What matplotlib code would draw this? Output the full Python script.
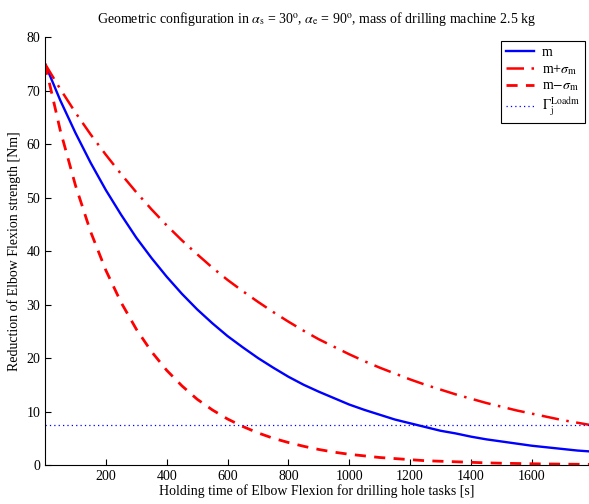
import numpy as np
import matplotlib
matplotlib.use('Agg')
import matplotlib.pyplot as plt

plt.rcParams['font.family'] = ['Liberation Serif', 'DejaVu Serif']
plt.rcParams['mathtext.fontset'] = 'stix'

# holding time [s]
t = np.arange(0, 1801, 50)

# mean strength reduction m [Nm]
m = [75.0, 68.2, 62.1, 56.5, 51.4, 46.8, 42.5, 38.7, 35.2, 32.0, 29.1, 26.5, 24.1,
     22.0, 20.0, 18.2, 16.5, 15.0, 13.7, 12.5, 11.3, 10.3, 9.4, 8.5, 7.8, 7.1,
     6.4, 5.9, 5.3, 4.8, 4.4, 4.0, 3.6, 3.3, 3.0, 2.7, 2.5]
# m + sigma
m_plus = [75.0, 70.3, 65.9, 61.8, 58.0, 54.4, 51.0, 47.8, 44.8, 42.0, 39.4, 36.9,
          34.6, 32.5, 30.5, 28.6, 26.8, 25.1, 23.5, 22.1, 20.7, 19.4, 18.2, 17.1,
          16.0, 15.0, 14.1, 13.2, 12.4, 11.6, 10.9, 10.2, 9.6, 9.0, 8.4, 7.9, 7.4]
# m - sigma
m_minus = [75.0, 62.6, 52.3, 43.6, 36.4, 30.4, 25.4, 21.2, 17.7, 14.8, 12.3, 10.3,
           8.6, 7.2, 6.0, 5.0, 4.2, 3.5, 2.9, 2.4, 2.0, 1.7, 1.4, 1.2, 1.0, 0.8,
           0.7, 0.6, 0.5, 0.4, 0.33, 0.28, 0.23, 0.19, 0.16, 0.13, 0.11]
# load torque
gamma_load = 7.4

fig = plt.figure(figsize=(5.89, 5.04), dpi=100)
ax = fig.add_axes([0.0764, 0.0774, 0.9236, 0.849])

ax.plot(t, m, color='blue', lw=1.7, label='m')
ax.plot(t, m_plus, color='red', lw=1.8, dashes=(7, 3, 1, 3), label=r'm+$\sigma_{\rm m}$')
ax.plot(t, m_minus, color='red', lw=2.0, dashes=(4, 3), label=r'm$-\sigma_{\rm m}$')
ax.axhline(gamma_load, color='blue', lw=0.9, dashes=(1, 2.5), label=r'$\Gamma^{\rm Load m}_{\rm j}$')

ax.set_xlim(0, 1788)
ax.set_ylim(0, 80)
ax.set_xticks(np.arange(200, 1601, 200))
ax.set_yticks(np.arange(0, 81, 10))
ax.tick_params(direction='in', labelsize=10, length=4)
ax.spines['top'].set_visible(False)
ax.spines['right'].set_visible(False)

ax.set_xlabel('Holding time of Elbow Flexion for drilling hole tasks [s]', fontsize=10, labelpad=1)
ax.set_ylabel('Reduction of Elbow Flexion strength [Nm]', fontsize=10, labelpad=4)
ax.set_title(r'Geometric configuration in $\alpha_{\rm s}$ = 30$^{\rm o}$, $\alpha_{\rm e}$ = 90$^{\rm o}$, mass of drilling machine 2.5 kg',
             fontsize=10, pad=10)

leg = ax.legend(loc='upper right', fontsize=10, fancybox=False, edgecolor='black',
                framealpha=1, handlelength=2.0, handletextpad=0.6, borderaxespad=0.3,
                labelspacing=0.2, borderpad=0.35)
leg.get_frame().set_linewidth(0.8)

fig.savefig('out.png', dpi=100)
